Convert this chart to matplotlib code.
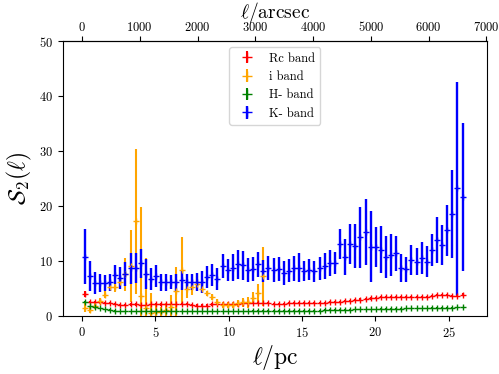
import numpy as np
import matplotlib
matplotlib.use('Agg')
import matplotlib.pyplot as plt

plt.rcParams['font.family'] = 'serif'
plt.rcParams['font.serif'] = ['cmr10', 'DejaVu Serif']
plt.rcParams['mathtext.fontset'] = 'cm'
plt.rcParams['axes.formatter.use_mathtext'] = True

# lag grid (pc)
lag = [0.18, 0.53, 0.88, 1.22, 1.57, 1.92, 2.27, 2.62, 2.96, 3.31,
       3.66, 4.01, 4.36, 4.70, 5.05, 5.40, 5.75, 6.10, 6.44, 6.79,
       7.14, 7.49, 7.84, 8.18, 8.53, 8.88, 9.23, 9.58, 9.92, 10.27,
       10.62, 10.97, 11.32, 11.66, 12.01, 12.36, 12.71, 13.06, 13.40, 13.75,
       14.10, 14.45, 14.80, 15.14, 15.49, 15.84, 16.19, 16.54, 16.88, 17.23,
       17.58, 17.93, 18.28, 18.62, 18.97, 19.32, 19.67, 20.02, 20.36, 20.71,
       21.06, 21.41, 21.76, 22.10, 22.45, 22.80, 23.15, 23.50, 23.84, 24.19,
       24.54, 24.89, 25.24, 25.58, 25.93]

# Rc band
rc_s2 = [4.0, 2.6, 2.6, 2.5, 2.4, 2.3, 2.2, 2.0, 2.0, 2.1,
         2.1, 2.0, 2.0, 2.1, 2.1, 2.1, 2.2, 2.2, 2.2, 2.2,
         2.2, 2.0, 1.9, 1.9, 1.9, 2.1, 2.2, 2.2, 2.2, 2.2,
         2.2, 2.3, 2.3, 2.3, 2.3, 2.3, 2.3, 2.2, 2.2, 2.2,
         2.3, 2.3, 2.3, 2.3, 2.3, 2.4, 2.4, 2.4, 2.5, 2.6,
         2.6, 2.7, 2.8, 2.9, 3.0, 3.1, 3.2, 3.3, 3.4, 3.5,
         3.5, 3.5, 3.5, 3.4, 3.4, 3.5, 3.5, 3.5, 3.6, 3.8,
         3.8, 3.8, 3.7, 3.7, 3.9]
rc_err = [0.6] + [0.2] * 74

# i band (only up to ~12.7 pc)
i_s2 = [1.5, 1.1, 1.8, 2.7, 3.9, 5.2, 5.2, 6.2, 7.6, 9.1,
        17.2, 3.6, 1.5, 0.6, 0.8, 0.8, 1.1, 1.7, 4.5, 8.4,
        5.0, 5.2, 5.9, 5.0, 4.1, 3.5, 2.6, 2.0, 2.0, 2.0,
        2.3, 2.5, 2.5, 3.3, 4.2, 7.2]
i_err = [0.8, 0.6, 0.6, 0.6, 0.6, 0.6, 0.9, 1.0, 3.0, 6.5,
         13.2, 16.3, 9.0, 3.5, 1.2, 0.8, 1.2, 2.2, 4.5, 6.0,
         1.7, 1.3, 1.4, 0.7, 0.5, 0.5, 0.5, 0.5, 0.5, 0.5,
         0.6, 0.8, 1.0, 1.1, 1.6, 5.4]

# H- band
h_s2 = [2.6, 1.8, 1.6, 1.4, 1.2, 1.1, 1.0, 0.9, 0.9, 0.9,
        0.9, 0.9, 0.9, 0.9, 0.9, 0.9, 0.9, 0.9, 0.9, 0.9,
        0.9, 0.9, 0.9, 0.9, 0.9, 0.9, 0.9, 0.9, 0.9, 0.9,
        0.9, 0.9, 0.9, 1.0, 1.0, 1.0, 1.0, 1.0, 1.0, 1.0,
        1.0, 1.0, 1.0, 1.0, 1.0, 1.0, 1.0, 1.1, 1.1, 1.1,
        1.1, 1.1, 1.1, 1.2, 1.2, 1.2, 1.2, 1.2, 1.3, 1.3,
        1.3, 1.3, 1.3, 1.4, 1.4, 1.4, 1.4, 1.4, 1.5, 1.5,
        1.5, 1.5, 1.5, 1.6, 1.6]
h_err = [0.1] * 75

# K- band
k_s2 = [10.8, 7.3, 6.0, 6.0, 6.0, 6.1, 7.5, 7.0, 7.6, 8.7,
        8.7, 9.6, 7.6, 6.8, 7.3, 6.1, 6.1, 6.2, 6.1, 6.5,
        6.2, 6.2, 6.2, 6.2, 7.1, 7.5, 6.8, 9.1, 8.4, 8.8,
        9.4, 9.2, 8.4, 8.5, 9.4, 8.2, 8.7, 8.4, 8.5, 7.8,
        8.2, 8.7, 8.8, 8.2, 8.4, 8.1, 8.7, 9.1, 9.7, 9.6,
        13.1, 10.8, 13.1, 12.8, 14.3, 15.2, 12.6, 12.6, 12.1, 10.7,
        11.1, 11.4, 8.7, 8.5, 10.2, 9.9, 10.6, 9.9, 12.0, 13.9,
        12.9, 15.6, 18.5, 23.2, 21.6]
k_err = [5.0, 2.7, 2.0, 1.6, 1.5, 1.5, 1.7, 2.0, 2.2, 2.8,
         2.7, 2.6, 2.7, 2.0, 2.0, 1.6, 1.6, 1.3, 1.6, 1.7,
         1.5, 1.5, 1.7, 2.0, 2.0, 2.0, 2.0, 2.1, 2.0, 2.4,
         2.6, 2.6, 2.2, 2.2, 2.3, 2.0, 2.2, 2.2, 2.2, 2.2,
         2.1, 2.3, 2.6, 1.8, 1.9, 2.0, 2.1, 2.4, 2.4, 2.0,
         2.8, 3.3, 3.7, 4.0, 5.6, 6.0, 6.5, 3.6, 4.3, 3.8,
         3.9, 3.2, 2.6, 2.3, 2.7, 2.4, 2.9, 2.8, 2.9, 4.2,
         3.7, 4.6, 8.0, 19.4, 13.5]

arcsec_per_pc = 254.0

fig = plt.figure(figsize=(4.99, 3.74), dpi=100)
ax = fig.add_axes([0.126, 0.155, 0.85, 0.735])

ms = 5
ax.errorbar(lag, rc_s2, yerr=rc_err, fmt='+', color='red', ms=ms, label='Rc band')
ax.errorbar(lag[:len(i_s2)], i_s2, yerr=i_err, fmt='+', color='orange', ms=ms, label='i band')
ax.errorbar(lag, h_s2, yerr=h_err, fmt='+', color='green', ms=ms, label='H- band')
ax.errorbar(lag, k_s2, yerr=k_err, fmt='+', color='blue', ms=ms, elinewidth=1.7, label='K- band')

ax.set_xlim(-1.3, 27.6)
ax.set_ylim(0, 50)
ax.set_yticks([0, 10, 20, 30, 40, 50])
ax.tick_params(labelsize=9)
ax.set_xlabel(r'$\ell/\mathrm{pc}$', fontsize=17, labelpad=2)
ax.set_ylabel(r'$\mathcal{S}_2(\ell)$', fontsize=17)

top = ax.secondary_xaxis('top', functions=(lambda x: x * arcsec_per_pc,
                                           lambda x: x / arcsec_per_pc))
top.set_xticks([0, 1000, 2000, 3000, 4000, 5000, 6000, 7000])
top.tick_params(labelsize=9, pad=2)
top.set_xlabel(r'$\ell/\mathrm{arcsec}$', fontsize=14, labelpad=1)

ax.legend(loc='upper center', fontsize=9, markerscale=1.4)

fig.savefig('out.png', dpi=100)
